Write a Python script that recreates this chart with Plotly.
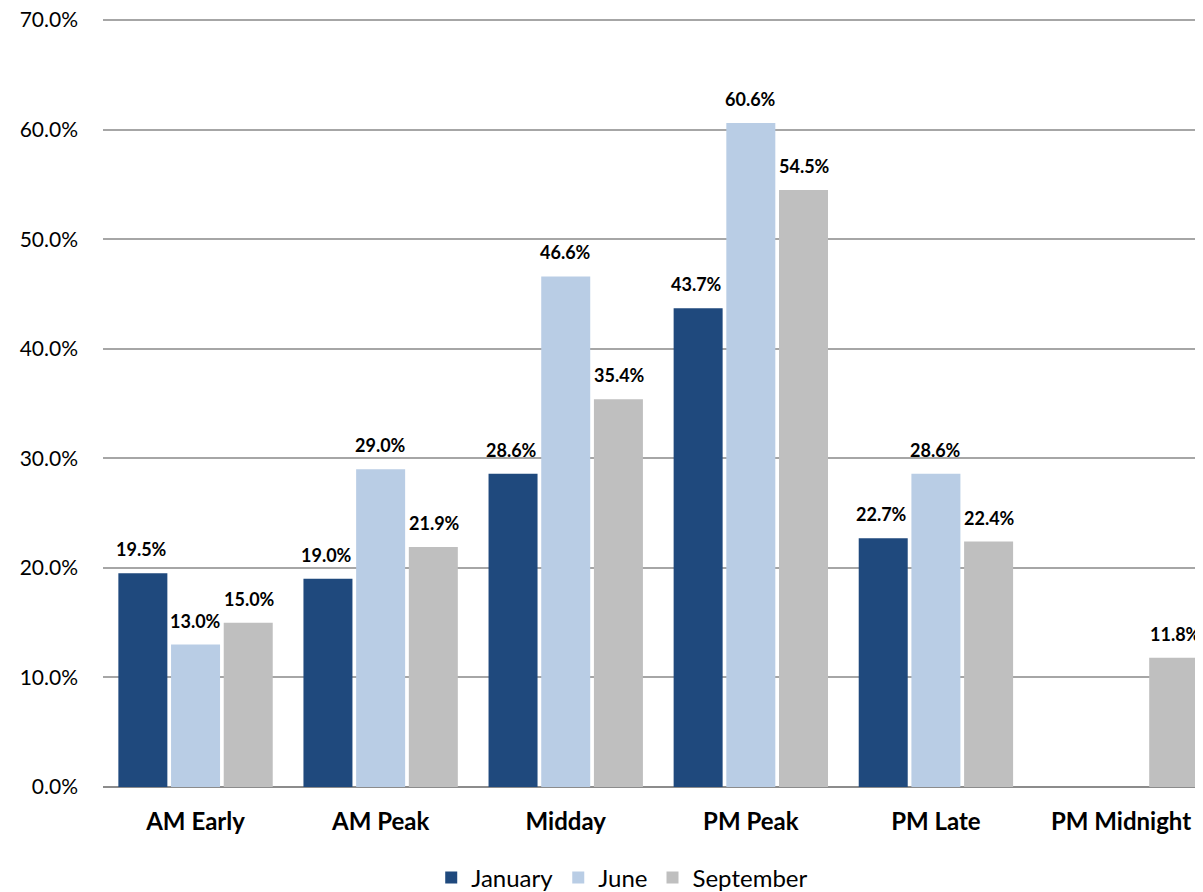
import plotly.graph_objects as go

categories = ["AM Early", "AM Peak", "Midday", "PM Peak", "PM Late", "PM Midnight"]
series_names = ["January", "June", "September"]
january = [19.5, 19.0, 28.6, 43.7, 22.7, None]
june = [13.0, 29.0, 46.6, 60.6, 28.6, None]
september = [15.0, 21.9, 35.4, 54.5, 22.4, 11.8]
colors = ["#1F497D", "#B9CDE5", "#BFBFBF"]
y_ticks = [0, 10, 20, 30, 40, 50, 60, 70]

series_values = [january, june, september]
FONT = "Lato, 'Open Sans', sans-serif"

fig = go.Figure()
for name, vals, col in zip(series_names, series_values, colors):
    fig.add_trace(go.Bar(
        x=categories, y=vals, name=name,
        marker=dict(color=col, line=dict(width=0)),
    ))

annotations = []
offsets = [-54, 0, 54]
for vals, off in zip(series_values, offsets):
    for cat, v in zip(categories, vals):
        if v is None:
            continue
        annotations.append(dict(
            x=cat, y=v, xref="x", yref="y", text=f"<b>{v:.1f}%</b>",
            showarrow=False, xshift=off, yshift=11, yanchor="bottom",
            font=dict(family=FONT, size=18, color="#000000"),
        ))

# page body has an 8px margin, so the figure is sized to fit the 1203x892 window
fig.update_layout(
    width=1195, height=884,
    margin=dict(l=95, r=0, t=11, b=105, autoexpand=False),
    paper_bgcolor="white", plot_bgcolor="white",
    barmode="group", bargap=0.146, bargroupgap=0.07,
    font=dict(family=FONT, size=20, color="#000000"),
    showlegend=True,
    legend=dict(orientation="h", x=0.514, xref="container", xanchor="center",
                y=0.016, yref="container", yanchor="middle",
                font=dict(family=FONT, size=24, color="#000000"),
                itemwidth=30, traceorder="normal"),
    annotations=annotations,
    xaxis=dict(range=[-0.5, 5.443], showgrid=False, showline=False,
               automargin=False,
               tickfont=dict(family=FONT, size=24, color="#000000"),
               ticks="", ticklabelstandoff=18),
    yaxis=dict(range=[0, 70.1], tickvals=y_ticks,
               ticktext=[f"{t:.1f}%" for t in y_ticks],
               automargin=False, ticklabeloverflow="allow",
               showgrid=True, gridcolor="#A6A6A6", gridwidth=1.5,
               zeroline=True, zerolinecolor="#8C8C8C", zerolinewidth=2,
               showline=False, ticks="",
               tickfont=dict(family=FONT, size=21, color="#000000"),
               ticklabelstandoff=24),
)
fig.update_xaxes(tickprefix="<b>", ticksuffix="</b>")

fig.write_html("out.html")
